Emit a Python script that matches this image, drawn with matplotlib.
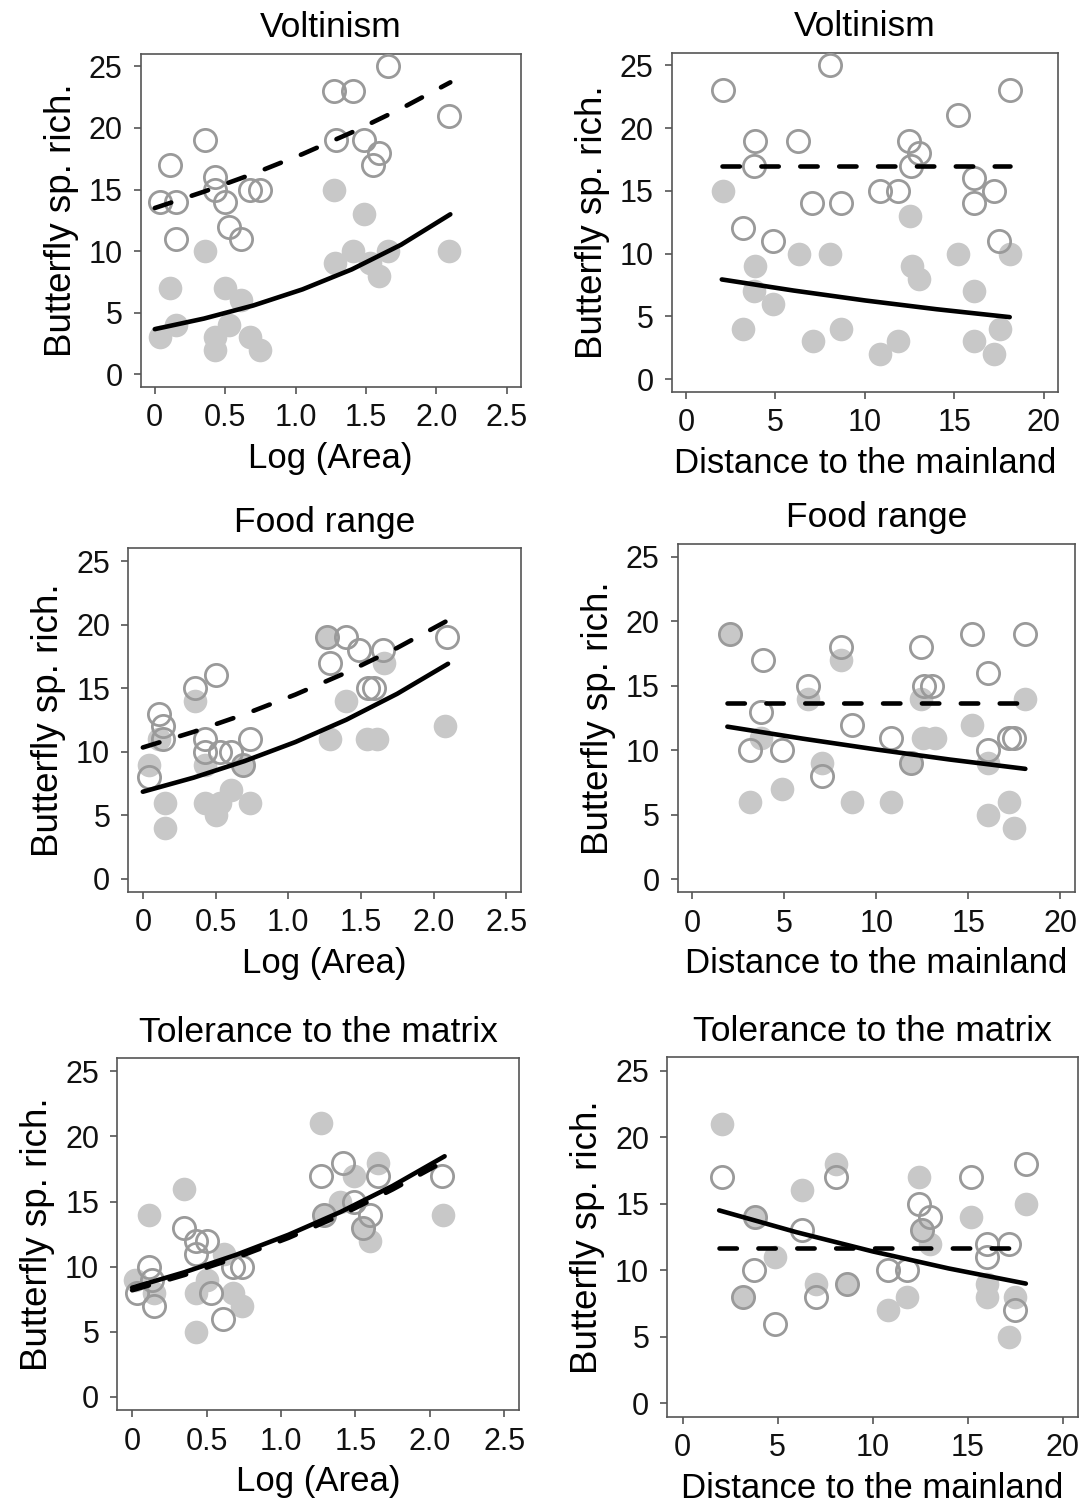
import matplotlib
matplotlib.use("Agg")
import matplotlib.pyplot as plt

plt.rcParams['font.family'] = ['Liberation Sans', 'DejaVu Sans']
plt.rcParams['lines.scale_dashes'] = False

# ---------------- data ----------------
titles = ["Voltinism", "Food range", "Tolerance to the matrix"]
xlabel_area = "Log (Area)"
xlabel_dist = "Distance to the mainland"
ylabel = "Butterfly sp. rich."
area_ticks = [0, 0.5, 1.0, 1.5, 2.0, 2.5]
area_ticklabels = ["0", "0.5", "1.0", "1.5", "2.0", "2.5"]
dist_ticks = [0, 5, 10, 15, 20]
dist_ticklabels = ["0", "5", "10", "15", "20"]
y_ticks = [0, 5, 10, 15, 20, 25]
y_ticklabels = ["0", "5", "10", "15", "20", "25"]

# Panel 1: Voltinism ~ Log(Area)
p1_open_x = [0.04, 0.15, 0.11, 0.15, 0.36, 0.43, 0.43, 0.50, 0.53, 0.61, 0.68, 0.75, 1.27, 1.41, 1.29, 1.49, 1.59, 1.55, 1.66, 2.09]
p1_open_y = [14, 14, 17, 11, 19, 16, 15, 14, 12, 11, 15, 15, 23, 23, 19, 19, 18, 17, 25, 21]
p1_fill_x = [0.04, 0.15, 0.11, 0.36, 0.43, 0.43, 0.50, 0.53, 0.61, 0.68, 0.75, 1.27, 1.41, 1.28, 1.49, 1.53, 1.59, 1.66, 2.09]
p1_fill_y = [3, 4, 7, 10, 3, 2, 7, 4, 6, 3, 2, 15, 10, 9, 13, 9, 8, 10, 10]
p1_line_x = [0, 0.35, 0.7, 1.05, 1.4, 1.75, 2.1]
p1_solid = [3.67, 4.53, 5.59, 6.90, 8.52, 10.52, 12.99]
p1_dashed = [13.5, 14.83, 16.28, 17.88, 19.64, 21.57, 23.7]

# Panel 2: Voltinism ~ Distance
p2_open_x = [2.05, 8.06, 3.86, 3.79, 6.25, 3.17, 4.85, 7.05, 8.68, 10.82, 11.87, 12.46, 13.0, 12.6, 15.2, 16.08, 16.08, 17.2, 17.5, 18.1]
p2_open_y = [23, 25, 19, 17, 19, 12, 11, 14, 14, 15, 15, 19, 18, 17, 21, 16, 14, 15, 11, 23]
p2_fill_x = [2.05, 3.88, 3.82, 4.89, 3.17, 6.3, 8.06, 7.09, 8.68, 10.82, 11.87, 12.5, 12.63, 13.0, 15.2, 16.08, 16.08, 17.2, 17.54, 18.1]
p2_fill_y = [15, 9, 7, 6, 4, 10, 10, 3, 4, 2, 3, 13, 9, 8, 10, 7, 3, 2, 4, 10]
p2_line_x = [2.0, 6.0, 10.0, 14.0, 18.1]
p2_solid = [7.94, 7.06, 6.27, 5.57, 4.94]
p2_dashed = [17.0, 17.0, 17.0, 17.0, 17.0]

# Panel 3: Food range ~ Log(Area)
p3_open_x = [0.04, 0.11, 0.14, 0.14, 0.36, 0.50, 0.43, 0.43, 0.53, 0.61, 0.74, 0.69, 1.29, 1.27, 1.40, 1.49, 1.65, 1.55, 1.59, 2.09]
p3_open_y = [8, 13, 12, 11, 15, 16, 11, 10, 10, 10, 11, 9, 17, 19, 19, 18, 18, 15, 15, 19]
p3_fill_x = [0.04, 0.11, 0.15, 0.15, 0.36, 0.43, 0.43, 0.50, 0.61, 0.53, 0.74, 0.69, 1.27, 1.29, 1.40, 1.54, 1.61, 1.66, 2.08]
p3_fill_y = [9, 11, 6, 4, 14, 9, 6, 5, 7, 6, 6, 9, 19, 11, 14, 11, 11, 17, 12]
p3_line_x = [0, 0.35, 0.7, 1.05, 1.4, 1.75, 2.1]
p3_solid = [6.86, 7.97, 9.27, 10.77, 12.52, 14.56, 16.92]
p3_dashed = [10.34, 11.57, 12.95, 14.50, 16.23, 18.17, 20.34]

# Panel 4: Food range ~ Distance
p4_open_x = [3.85, 3.73, 3.15, 4.85, 6.27, 8.09, 8.67, 7.04, 10.78, 12.45, 12.6, 13.0, 15.2, 16.05, 16.05, 17.2, 17.5, 18.1, 11.87, 2.05]
p4_open_y = [17, 13, 10, 10, 15, 18, 12, 8, 11, 18, 15, 15, 19, 16, 10, 11, 11, 19, 9, 19]
p4_fill_x = [2.05, 3.73, 3.15, 4.85, 6.27, 8.09, 7.04, 8.67, 10.78, 11.87, 12.45, 12.55, 13.2, 15.2, 16.05, 16.05, 17.2, 17.5, 18.1]
p4_fill_y = [19, 11, 6, 7, 14, 17, 9, 6, 6, 9, 14, 11, 11, 12, 9, 5, 6, 4, 14]
p4_line_x = [1.9, 6.0, 10.0, 14.0, 18.1]
p4_solid = [11.84, 10.91, 10.07, 9.29, 8.57]
p4_dashed = [13.67, 13.67, 13.67, 13.67, 13.67]

# Panel 5: Tolerance ~ Log(Area)
p5_open_x = [0.03, 0.11, 0.13, 0.15, 0.35, 0.43, 0.50, 0.43, 0.53, 0.61, 0.68, 0.74, 1.27, 1.42, 1.65, 1.49, 1.29, 1.60, 1.55, 2.08]
p5_open_y = [8, 10, 9, 7, 13, 12, 12, 11, 8, 6, 10, 10, 17, 18, 17, 15, 14, 14, 13, 17]
p5_fill_x = [0.02, 0.11, 0.15, 0.35, 0.43, 0.43, 0.50, 0.62, 0.68, 0.74, 1.27, 1.29, 1.49, 1.40, 1.65, 1.55, 1.60, 2.09]
p5_fill_y = [9, 14, 8, 16, 8, 5, 9, 11, 8, 7, 21, 14, 17, 15, 18, 13, 12, 14]
p5_line_x = [0, 0.35, 0.7, 1.05, 1.4, 1.75, 2.1]
p5_solid = [8.39, 9.57, 10.92, 12.45, 14.20, 16.20, 18.48]
p5_dashed = [8.19, 9.36, 10.69, 12.21, 13.94, 15.93, 18.1]

# Panel 6: Tolerance ~ Distance
p6_open_x = [2.07, 3.82, 3.77, 4.88, 6.28, 8.07, 7.05, 8.68, 10.8, 11.84, 12.46, 13.0, 12.6, 15.2, 16.05, 16.05, 17.16, 17.5, 18.07, 3.16]
p6_open_y = [17, 14, 10, 6, 13, 17, 8, 9, 10, 10, 15, 14, 13, 17, 12, 11, 12, 7, 18, 8]
p6_fill_x = [2.07, 3.82, 3.16, 4.88, 6.28, 8.07, 7.05, 8.68, 10.8, 11.84, 12.46, 13.0, 12.6, 15.2, 16.05, 16.05, 17.16, 17.5, 18.07]
p6_fill_y = [21, 14, 8, 11, 16, 18, 9, 9, 7, 8, 17, 12, 13, 14, 9, 8, 5, 8, 15]
p6_line_x = [1.93, 6.0, 10.0, 14.0, 18.07]
p6_solid = [14.5, 12.86, 11.42, 10.14, 9.0]
p6_dashed = [11.7, 11.7, 11.7, 11.7, 11.7]

# ---------------- layout ----------------
W, H = 1086, 1508
fig = plt.figure(figsize=(W / 100, H / 100), dpi=100)

def rect(x0, x1, y0, y1):
    return [x0 / W, (H - y1) / H, (x1 - x0) / W, (y1 - y0) / H]

panels = [
    (rect(140.7, 520.7, 54.0, 386.7), titles[0], "area", p1_open_x, p1_open_y, p1_fill_x, p1_fill_y, p1_line_x, p1_solid, p1_dashed),
    (rect(671.7, 1058.0, 52.7, 391.7), titles[0], "dist", p2_open_x, p2_open_y, p2_fill_x, p2_fill_y, p2_line_x, p2_solid, p2_dashed),
    (rect(128.3, 520.7, 548.3, 891.7), titles[1], "area", p3_open_x, p3_open_y, p3_fill_x, p3_fill_y, p3_line_x, p3_solid, p3_dashed),
    (rect(677.7, 1075.0, 544.0, 892.3), titles[1], "dist", p4_open_x, p4_open_y, p4_fill_x, p4_fill_y, p4_line_x, p4_solid, p4_dashed),
    (rect(117.3, 519.0, 1058.3, 1410.0), titles[2], "area", p5_open_x, p5_open_y, p5_fill_x, p5_fill_y, p5_line_x, p5_solid, p5_dashed),
    (rect(667.3, 1077.7, 1057.3, 1416.7), titles[2], "dist", p6_open_x, p6_open_y, p6_fill_x, p6_fill_y, p6_line_x, p6_solid, p6_dashed),
]

FILL = "#c8c8c8"
RING = "#9a9a9a"
AXC = "#555555"

for r, title, kind, ox, oy, fx, fy, lx, ls, ld in panels:
    ax = fig.add_axes(r)
    ax.plot(fx, fy, 'o', ms=17, mfc=FILL, mec='none', zorder=2)
    ax.plot(ox, oy, 'o', ms=16, mfc='none', mec=RING, mew=2.0, zorder=3)
    ax.plot(lx, ld, color='black', lw=3.3, linestyle=(0, (12.5, 15.5)),
            dash_capstyle='round', solid_capstyle='round', zorder=4)
    ax.plot(lx, ls, color='black', lw=3.3, solid_capstyle='round', zorder=5)
    ax.set_ylim(-1, 26)
    ax.set_yticks(y_ticks)
    ax.set_yticklabels(y_ticklabels)
    if kind == "area":
        ax.set_xlim(-0.1, 2.6)
        ax.set_xticks(area_ticks)
        ax.set_xticklabels(area_ticklabels)
        ax.set_xlabel(xlabel_area, fontsize=25, labelpad=6)
    else:
        ax.set_xlim(-0.8, 20.8)
        ax.set_xticks(dist_ticks)
        ax.set_xticklabels(dist_ticklabels)
        ax.set_xlabel(xlabel_dist, fontsize=25, labelpad=6)
    ax.set_ylabel(ylabel, fontsize=26.5, labelpad=7)
    ax.set_title(title, fontsize=25.5, pad=12)
    for s in ax.spines.values():
        s.set_color(AXC)
        s.set_linewidth(1.2)
    ax.tick_params(direction='out', length=5, width=1.2, color=AXC,
                   labelsize=22, labelcolor='#111111')
    ax.tick_params(axis='x', pad=7)
    ax.tick_params(axis='y', pad=8)

fig.savefig("out.png", dpi=100, facecolor='white')
